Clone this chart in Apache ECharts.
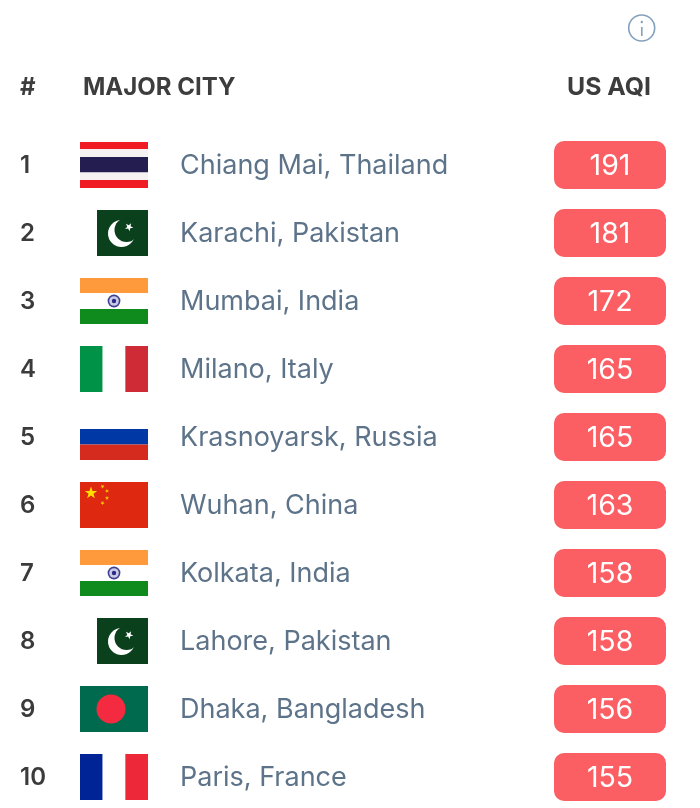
<!DOCTYPE html>
<html>
<head>
<meta charset="utf-8">
<style>
	html, body { margin: 0; padding: 0; background: #fff; }
	#chart { width: 700px; height: 808px; }
</style>
<script src="https://cdn.jsdelivr.net/npm/echarts@6/dist/echarts.min.js"></script>
</head>
<body>
<div id="chart"></div>
<script>
var ranks = ['1', '2', '3', '4', '5', '6', '7', '8', '9', '10']
var cities = ['Chiang Mai, Thailand', 'Karachi, Pakistan', 'Mumbai, India', 'Milano, Italy', 'Krasnoyarsk, Russia', 'Wuhan, China', 'Kolkata, India', 'Lahore, Pakistan', 'Dhaka, Bangladesh', 'Paris, France']
var flags = ['th', 'pk', 'in', 'it', 'ru', 'cn', 'in', 'pk', 'bd', 'fr']
var aqi = [191, 181, 172, 165, 165, 163, 158, 158, 156, 155]

var font = 'Inter'
var flagLeft = 80
var flagWidth = 68
var flagHeight = 46

function rect(x, y, w, h, fill) {
	return { type: 'rect', shape: { x: x, y: y, width: w, height: h }, style: { fill: fill } }
}
function circle(cx, cy, r, fill) {
	return { type: 'circle', shape: { cx: cx, cy: cy, r: r }, style: { fill: fill } }
}
function star(cx, cy, r, fill, rot) {
	var points = []
	for (var i = 0; i < 10; i++) {
		var a = rot + i * Math.PI / 5
		var d = i % 2 ? r * 0.4 : r
		points.push([cx + d * Math.sin(a), cy - d * Math.cos(a)])
	}
	return { type: 'polygon', shape: { points: points }, style: { fill: fill } }
}
function hStripes(top, list) {
	var y = top
	return list.map(function (s) {
		var r = rect(flagLeft, y, flagWidth, s[0], s[1])
		y += s[0]
		return r
	})
}
function vStripes(top, colors) {
	return colors.map(function (c, i) {
		return rect(flagLeft + i * flagWidth / 3, top, flagWidth / 3, flagHeight, c)
	})
}

// top is the upper edge of the flag, everything is drawn from there
function drawFlag(code, top) {
	var l = flagLeft
	if (code == 'th') return hStripes(top, [[7, '#f01c24'], [8, '#f7f2f2'], [15.5, '#241d4f'], [7.5, '#f7f2f2'], [8, '#f01c24']])
	if (code == 'in') {
		return hStripes(top, [[15, '#ff9a3c'], [16, '#ffffff'], [15, '#0f8a1c']]).concat([
			circle(l + 34, top + 23, 6.4, '#3d3f8f'),
			circle(l + 34, top + 23, 4.8, '#c9cbe6'),
			circle(l + 34, top + 23, 2.2, '#2a2c86')
		])
	}
	if (code == 'it') return vStripes(top, ['#009246', '#ffffff', '#ce2b37'])
	if (code == 'fr') return vStripes(top, ['#002395', '#ffffff', '#ed2939'])
	if (code == 'ru') return hStripes(top, [[15, '#ffffff'], [15.5, '#0039a6'], [15.5, '#d52b1e']])
	if (code == 'pk') {
		return [
			rect(l + 17, top, 51, flagHeight, '#0b401d'),
			circle(l + 41.5, top + 23.5, 13.5, '#ffffff'),
			circle(l + 46.5, top + 20, 12, '#0b401d'),
			star(l + 49, top + 17, 4.4, '#ffffff', 0.5)
		]
	}
	if (code == 'cn') {
		return [
			rect(l, top, flagWidth, flagHeight, '#de2910'),
			star(l + 11, top + 11, 6.5, '#ffde00', 0),
			star(l + 22.5, top + 4.5, 2.2, '#ffc800', 0.6),
			star(l + 27, top + 9, 2.2, '#ffc800', 0.9),
			star(l + 27, top + 16, 2.2, '#ffc800', 0),
			star(l + 22.5, top + 21, 2.2, '#ffc800', 0.6)
		]
	}
	if (code == 'bd') {
		return [
			rect(l, top, flagWidth, flagHeight, '#006a4e'),
			circle(l + 31, top + 23, 14.5, '#f42a41')
		]
	}
	return []
}

function renderRow(params, api) {
	var row = api.value(0)
	var y = api.coord([0, row])[1]
	return {
		type: 'group',
		children: [
			{ type: 'text', style: { x: 20, y: y + 1, text: ranks[row], font: '600 24px ' + font, fill: '#3b3b3b', verticalAlign: 'middle' } },
			{ type: 'group', children: drawFlag(flags[row], y - flagHeight / 2) },
			{ type: 'text', style: { x: 180, y: y + 1, text: cities[row], font: '400 27px ' + font, fill: '#5d7389', verticalAlign: 'middle' } },
			{ type: 'rect', shape: { x: 554, y: y - 24, width: 112, height: 48, r: 10 }, style: { fill: '#fc5f63' } },
			{ type: 'text', style: { x: 610, y: y + 1, text: String(api.value(1)), font: '400 28.5px ' + font, fill: '#ffffff', align: 'center', verticalAlign: 'middle' } }
		]
	}
}

var myChart = echarts.init(document.getElementById('chart'))
myChart.setOption({
	animation: false,
	backgroundColor: '#ffffff',
	// first and last row sit on the grid edges, the flags overhang it
	grid: { left: 0, top: 165, width: 700, height: 612 },
	xAxis: { type: 'value', min: 0, max: 700, show: false },
	yAxis: { type: 'category', data: ranks, inverse: true, boundaryGap: false, show: false },
	graphic: [
		{ type: 'text', x: 20, y: 88, style: { text: '#', font: '700 24px ' + font, fill: '#3d3d3d', verticalAlign: 'middle' } },
		{ type: 'text', x: 83, y: 88, style: { text: 'MAJOR CITY', font: '700 24px ' + font, fill: '#3d3d3d', verticalAlign: 'middle' } },
		{ type: 'text', x: 651, y: 88, style: { text: 'US AQI', font: '700 24.8px ' + font, fill: '#3d3d3d', align: 'right', verticalAlign: 'middle' } },
		{ type: 'circle', shape: { cx: 641.7, cy: 28, r: 13 }, style: { fill: 'none', stroke: '#84a1bc', lineWidth: 1.6 } },
		{ type: 'rect', shape: { x: 641, y: 27, width: 1.6, height: 9 }, style: { fill: '#84a1bc' } },
		{ type: 'circle', shape: { cx: 641.8, cy: 22, r: 1.2 }, style: { fill: '#84a1bc' } }
	],
	series: [{
		type: 'custom',
		coordinateSystem: 'cartesian2d',
		renderItem: renderRow,
		encode: { x: 1, y: 0 },
		clip: false,
		data: aqi.map(function (v, i) { return [i, v] })
	}]
})
</script>
</body>
</html>
